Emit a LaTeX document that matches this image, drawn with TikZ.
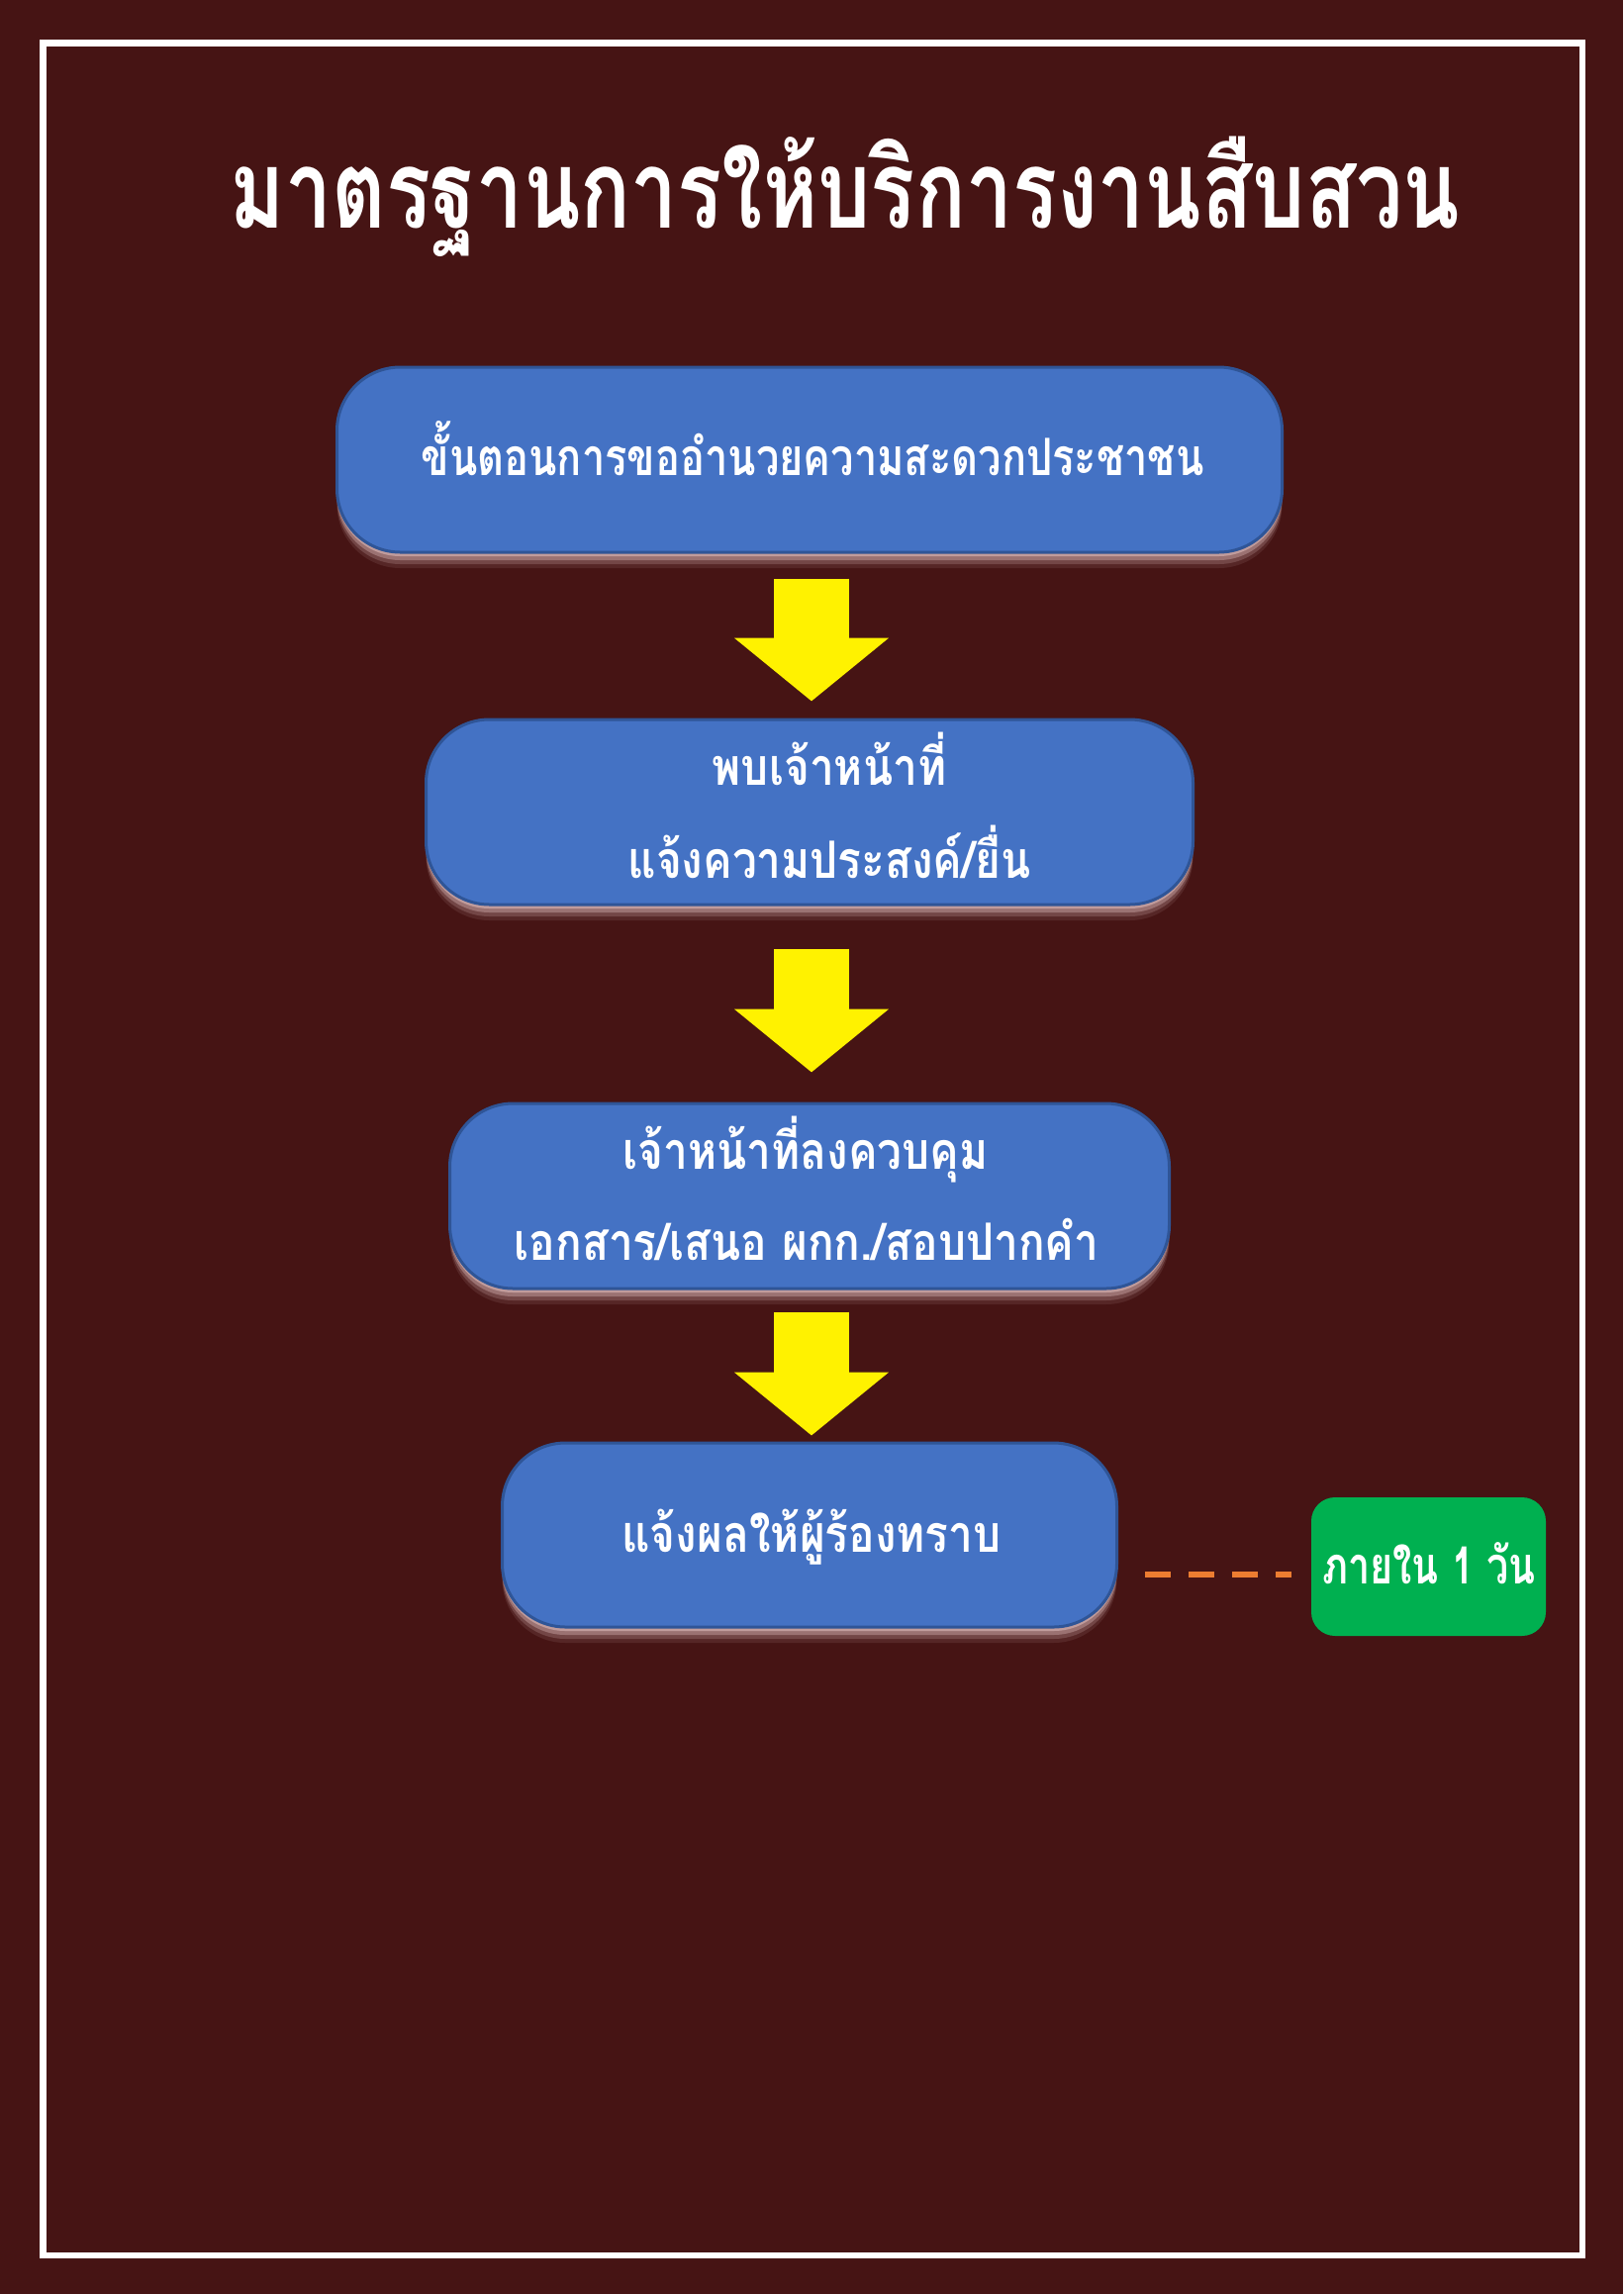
\documentclass[tikz,border=0pt]{standalone}
\usepackage{fontspec}
\usetikzlibrary{arrows.meta,shadows,calc}
\newfontfamily\thaititle[Script=Thai,FakeStretch=0.765]{Loma}
\newfontfamily\thaibody[Script=Thai,FakeStretch=0.85]{Loma}
\newfontfamily\thaibodyn[Script=Thai,FakeStretch=0.80]{Loma}
\newfontfamily\thaibodyg[Script=Thai,FakeStretch=0.76]{Loma}
\definecolor{bg}{HTML}{461414}
\definecolor{boxblue}{HTML}{4472C4}
\definecolor{boxedge}{HTML}{2F5597}
\definecolor{okgreen}{HTML}{00B050}
\definecolor{dashorange}{HTML}{ED7D31}
\definecolor{glow}{HTML}{E8C8C8}
\tikzset{
  stepbox/.style={draw=boxedge, line width=1.5pt, fill=boxblue, rounded corners=32pt,
    inner sep=0pt,
    drop shadow={shadow xshift=0pt, shadow yshift=-2pt, fill=glow, opacity=0.5},
    drop shadow={shadow xshift=0pt, shadow yshift=-4pt, fill=glow, opacity=0.35},
    drop shadow={shadow xshift=0pt, shadow yshift=-6pt, fill=glow, opacity=0.2},
    drop shadow={shadow xshift=0pt, shadow yshift=-8pt, fill=glow, opacity=0.1}},
  greenbox/.style={fill=okgreen, rounded corners=12pt, inner sep=0pt},
  bodytext/.style={anchor=base, text=white, font=\thaibody\bfseries\fontsize{26}{30}\selectfont, inner sep=0pt},
  titletext/.style={anchor=base, text=white, font=\thaititle\bfseries\fontsize{55}{64}\selectfont, inner sep=0pt},
  blockarrow/.style={draw=yellow, line width=38pt, -{Triangle[width=76.5pt,length=32pt,fill=yellow]}},
  dashline/.style={draw=dashorange, line width=3pt, dash pattern=on 13pt off 9pt}
}
\begin{document}
\begin{tikzpicture}[x=0.5pt,y=-0.5pt]
\fill[bg] (0,0) rectangle (1640,2318);
\useasboundingbox (0,0) rectangle (1640,2318);
\draw[white, line width=3.25pt] (43.5,43.5) rectangle (1599,2279);

\node[titletext] (title) at (854,230) {มาตรฐานการให้บริการงานสืบสวน};

\node[stepbox, minimum width=477.5pt, minimum height=93.5pt] (b1) at (818,464.5) {};
\node[stepbox, minimum width=387.5pt, minimum height=93.5pt] (b2) at (818,820.5) {};
\node[stepbox, minimum width=363.5pt, minimum height=93.5pt] (b3) at (818,1208.5) {};
\node[stepbox, minimum width=310.5pt, minimum height=93pt] (b4) at (818,1551) {};
\node[greenbox, minimum width=118.5pt, minimum height=70pt] (g) at (1443.5,1583) {};

\node[bodytext, font=\thaibodyn\bfseries\fontsize{26}{30}\selectfont] (t1) at (821,480) {ขั้นตอนการขออำนวยความสะดวกประชาชน};
\node[bodytext] (t2a) at (838,793) {พบเจ้าหน้าที่};
\node[bodytext] (t2b) at (838,887) {แจ้งความประสงค์/ยื่น};
\node[bodytext] (t3a) at (814,1181) {เจ้าหน้าที่ลงควบคุม};
\node[bodytext] (t3b) at (815,1273) {เอกสาร/เสนอ ผกก./สอบปากคำ};
\node[bodytext] (t4) at (820,1568) {แจ้งผลให้ผู้ร้องทราบ};
\node[bodytext, font=\thaibodyg\bfseries\fontsize{26}{30}\selectfont] (tg) at (1444,1600) {ภายใน 1 วัน};

\draw[blockarrow, shorten <=12.5pt, shorten >=8.5pt] ([xshift=1pt]b1.south) -- ([xshift=1pt]b2.north);
\draw[blockarrow, shorten <=21.5pt, shorten >=15pt] ([xshift=1pt]b2.south) -- ([xshift=1pt]b3.north);
\draw[blockarrow, shorten <=11pt, shorten >=3pt] ([xshift=1pt]b3.south) -- ([xshift=1pt]b4.north);

\draw[dashline] ($(b4.east)+(27,40)$) -- ($(g.west)+(-20,8)$);
\end{tikzpicture}
\end{document}
